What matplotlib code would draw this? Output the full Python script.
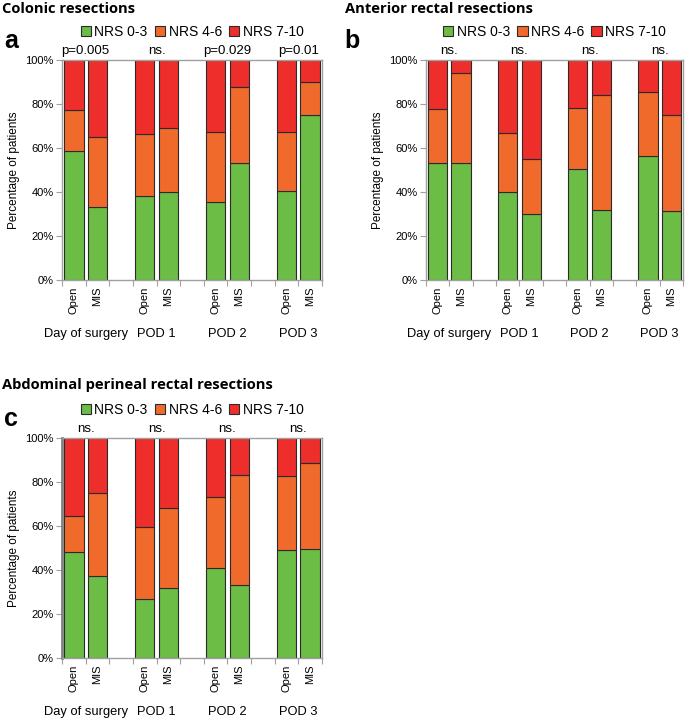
import matplotlib.pyplot as plt
import matplotlib.transforms as mtransforms
import numpy as np

plt.rcParams['font.family'] = ['Liberation Sans', 'DejaVu Sans']

groups = ['Day of surgery', 'POD 1', 'POD 2', 'POD 3']
arms = ['Open', 'MIS']
series = ['NRS 0-3', 'NRS 4-6', 'NRS 7-10']
colors = ['#6cbd45', '#f06b2b', '#ee2e2b']

# percentages per bar: Open/MIS for each day
colonic_low = [58.6, 33.2, 38.2, 40.0, 35.6, 53.2, 40.5, 75.0]
colonic_mid = [18.7, 31.8, 28.0, 29.1, 31.8, 34.5, 26.9, 15.2]
colonic_p = ['p=0.005', 'ns.', 'p=0.029', 'p=0.01']

anterior_low = [53.2, 53.2, 40.0, 29.8, 50.6, 31.7, 56.5, 31.3]
anterior_mid = [24.3, 40.9, 26.9, 25.2, 27.5, 52.4, 28.8, 43.8]
anterior_p = ['ns.', 'ns.', 'ns.', 'ns.']

apr_low = [48.2, 37.5, 26.7, 31.7, 40.9, 33.1, 49.2, 49.7]
apr_mid = [16.2, 37.6, 32.8, 36.7, 32.4, 50.3, 33.6, 39.0]
apr_p = ['ns.', 'ns.', 'ns.', 'ns.']

panels = [
    ('Colonic resections', 'a', colonic_low, colonic_mid, colonic_p),
    ('Anterior rectal resections', 'b', anterior_low, anterior_mid, anterior_p),
    ('Abdominal perineal rectal resections', 'c', apr_low, apr_mid, apr_p),
]

W, H = 685, 719
fig = plt.figure(figsize=(W / 100, H / 100), dpi=100)

# axes boxes in pixels: left, top, right, bottom
boxes = [(62, 60, 322, 280), (426, 60, 683, 280), (62, 438, 322, 658)]
# title origin in pixels
title_pos = [(2, 2), (345, 2), (2, 378)]
letter_pos = [(4, 29), (344, 29), (4, 407)]

pos = np.array([0, 1, 3, 4, 6, 7, 9, 10])
gcenters = [0.5, 3.5, 6.5, 9.5]
spine_col = '#a0a0a0'

for (title, letter, low, mid, pvals), box, tp, lp in zip(panels, boxes, title_pos, letter_pos):
    l, t, r, b = box
    ax = fig.add_axes([l / W, 1 - b / H, (r - l) / W, (b - t) / H])
    low = np.array(low)
    mid = np.array(mid)
    high = 100 - low - mid
    vals = [low, mid, high]
    bottom = np.zeros(len(pos))
    handles = []
    for v, c, s in zip(vals, colors, series):
        h = ax.bar(pos, v, bottom=bottom, width=0.82, color=c,
                   edgecolor='#2b2b2b', linewidth=0.8, label=s)
        handles.append(h)
        bottom = bottom + v

    ax.set_xlim(-0.5, 10.5)
    ax.set_ylim(0, 100)
    ax.set_yticks(np.arange(0, 101, 20))
    ax.set_yticklabels([f'{v}%' for v in range(0, 101, 20)], fontsize=8)
    ax.set_xticks(pos)
    ax.set_xticklabels(arms * 4, rotation=90, fontsize=8)
    ax.set_xticks(np.arange(-0.5, 11, 1), minor=True)
    ax.tick_params(axis='x', which='major', length=0, pad=5)
    ax.tick_params(axis='x', which='minor', length=4, color=spine_col, width=0.8)
    ax.tick_params(axis='y', length=4, color=spine_col, width=0.8, pad=2)
    for sp in ax.spines.values():
        sp.set_color(spine_col)
        sp.set_linewidth(1.0)
    if letter == 'c':
        ax.spines['left'].set_color('#808080')
        ax.spines['left'].set_linewidth(2)
    ax.set_ylabel('Percentage of patients', fontsize=8.5, labelpad=4)

    trans = mtransforms.blended_transform_factory(ax.transData, ax.transAxes)
    for gc, g in zip(gcenters, groups):
        ax.text(gc, -0.245, g, transform=trans, ha='center', va='center', fontsize=9.3)
    for gc, p in zip(gcenters, pvals):
        ax.text(gc, 101.5, p, ha='center', va='bottom', fontsize=9.5)

    ax.legend(handles=handles, ncol=3, loc='lower center', bbox_to_anchor=(0.5, 1.07),
              frameon=False, fontsize=10, handlelength=0.75, handleheight=0.75,
              handletextpad=0.25, columnspacing=0.5, borderaxespad=0)

    fig.text(tp[0] / W, 1 - tp[1] / H, title, ha='left', va='top', fontsize=10.6,
             fontweight='bold', family=['Open Sans', 'DejaVu Sans'])
    fig.text(lp[0] / W, 1 - lp[1] / H, letter, ha='left', va='top', fontsize=18,
             fontweight='bold')

fig.savefig('out.png', dpi=100)
